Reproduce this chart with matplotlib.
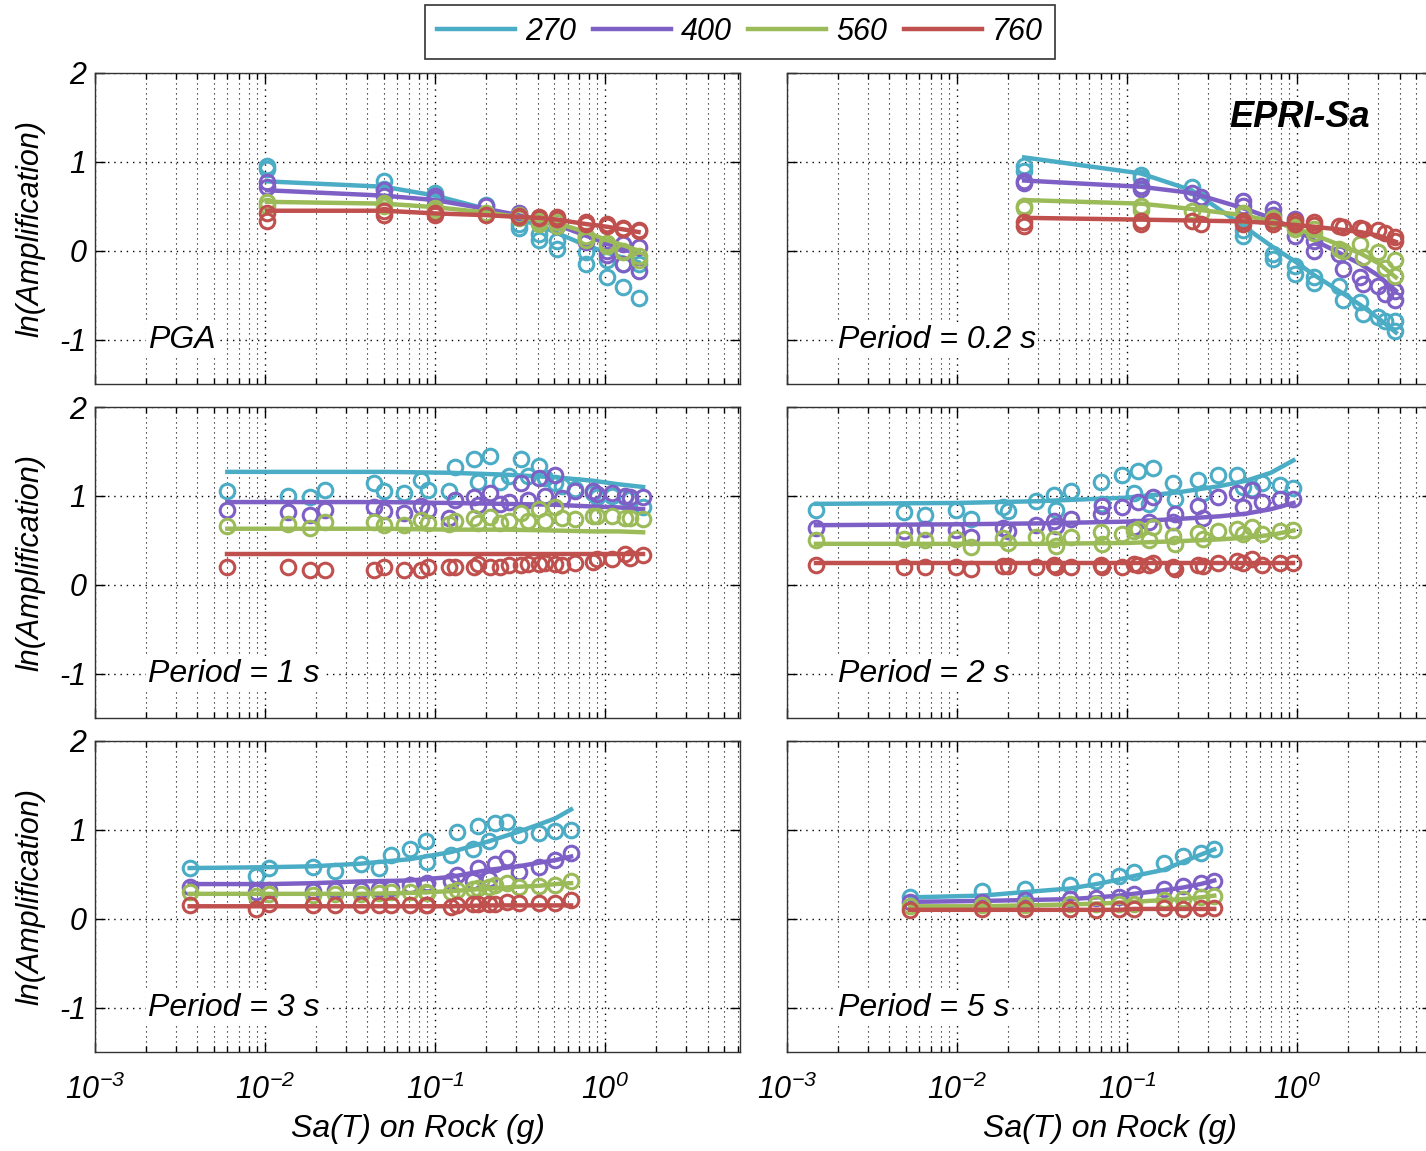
import numpy as np
import matplotlib
matplotlib.use("Agg")
import matplotlib.pyplot as plt
from matplotlib.ticker import LogLocator, LogFormatterMathtext, FixedLocator, NullFormatter
from matplotlib.lines import Line2D

plt.rcParams['font.family'] = ['Liberation Sans', 'DejaVu Sans']
plt.rcParams['font.style'] = 'italic'
plt.rcParams['mathtext.fontset'] = 'custom'
plt.rcParams['mathtext.rm'] = 'Liberation Sans:italic'
plt.rcParams['mathtext.it'] = 'Liberation Sans:italic'
plt.rcParams['mathtext.sf'] = 'Liberation Sans:italic'
plt.rcParams['axes.unicode_minus'] = False

# ---------------- data ----------------
series_labels = ['270', '400', '560', '760']
series_colors = ['#4BACC6', '#7E5FC6', '#9BBB59', '#C0504D']
panel_titles = ['PGA', 'Period = 0.2 s', 'Period = 1 s', 'Period = 2 s', 'Period = 3 s', 'Period = 5 s']
y_ticks = [-1, 0, 1, 2]

# PGA
pga_pts_x = [0.0103, 0.0103, 0.05, 0.05, 0.1, 0.1, 0.2, 0.31, 0.31, 0.41, 0.41, 0.52, 0.52,
             0.77, 0.77, 1.02, 1.02, 1.28, 1.28, 1.57, 1.57]
pga_pts_270 = [0.95, 0.92, 0.78, 0.70, 0.65, 0.62, 0.51, 0.30, 0.26, 0.19, 0.12, 0.11, 0.02,
               -0.02, -0.15, -0.11, -0.30, -0.15, -0.41, -0.15, -0.53]
pga_pts_400 = [0.77, 0.72, 0.68, 0.62, 0.62, 0.58, 0.50, 0.42, 0.40, 0.36, 0.33, 0.32, 0.28,
               0.15, 0.10, 0.00, -0.05, 0.07, -0.15, 0.04, -0.23]
pga_pts_560 = [0.55, 0.50, 0.54, 0.50, 0.48, 0.45, 0.42, 0.40, 0.37, 0.33, 0.30, 0.32, 0.28,
               0.17, 0.12, 0.09, 0.05, 0.00, -0.02, -0.06, -0.10]
pga_pts_760 = [0.43, 0.34, 0.45, 0.40, 0.43, 0.40, 0.40, 0.39, 0.38, 0.38, 0.37, 0.38, 0.36,
               0.32, 0.30, 0.30, 0.28, 0.26, 0.25, 0.23, 0.22]
pga_fit_x = [0.0103, 0.05, 0.1, 0.2, 0.31, 0.41, 0.52, 0.77, 1.02, 1.28, 1.57]
pga_fit_270 = [0.78, 0.72, 0.62, 0.47, 0.36, 0.28, 0.20, 0.06, -0.02, -0.08, -0.13]
pga_fit_400 = [0.68, 0.62, 0.57, 0.47, 0.40, 0.34, 0.29, 0.17, 0.08, 0.02, -0.04]
pga_fit_560 = [0.55, 0.53, 0.49, 0.43, 0.38, 0.34, 0.31, 0.21, 0.12, 0.06, 0.00]
pga_fit_760 = [0.45, 0.45, 0.42, 0.40, 0.38, 0.37, 0.35, 0.30, 0.27, 0.24, 0.21]

# T = 0.2 s
t02_pts_x = [0.0248, 0.0248, 0.12, 0.12, 0.24, 0.27, 0.48, 0.48, 0.72, 0.72, 0.97, 0.97,
             1.25, 1.25, 1.75, 1.85, 2.35, 2.45, 3.0, 3.3, 3.75, 3.75]
t02_pts_270 = [0.95, 0.90, 0.85, 0.82, 0.72, 0.57, 0.23, 0.16, -0.04, -0.09, -0.17, -0.26,
               -0.36, -0.30, -0.40, -0.56, -0.58, -0.71, -0.75, -0.79, -0.79, -0.90]
t02_pts_400 = [0.78, 0.76, 0.73, 0.70, 0.65, 0.60, 0.56, 0.50, 0.47, 0.40, 0.36, 0.17,
               0.11, 0.00, -0.04, -0.21, -0.30, -0.38, -0.40, -0.49, -0.45, -0.56]
t02_pts_560 = [0.50, 0.48, 0.50, 0.46, 0.45, 0.42, 0.43, 0.40, 0.37, 0.33, 0.28, 0.25,
               0.25, 0.20, 0.02, 0.00, 0.08, -0.07, -0.02, -0.19, -0.11, -0.28]
t02_pts_760 = [0.32, 0.28, 0.34, 0.30, 0.34, 0.30, 0.34, 0.30, 0.34, 0.30, 0.34, 0.30,
               0.32, 0.29, 0.28, 0.27, 0.26, 0.25, 0.23, 0.20, 0.15, 0.11]
t02_fit_x = [0.0248, 0.12, 0.24, 0.48, 0.72, 0.97, 1.25, 1.75, 2.35, 3.0, 3.8]
t02_fit_270 = [1.05, 0.87, 0.68, 0.28, 0.04, -0.12, -0.27, -0.45, -0.61, -0.76, -0.92]
t02_fit_400 = [0.79, 0.72, 0.65, 0.48, 0.36, 0.24, 0.12, -0.02, -0.15, -0.28, -0.45]
t02_fit_560 = [0.57, 0.53, 0.47, 0.40, 0.33, 0.25, 0.18, 0.07, -0.03, -0.14, -0.30]
t02_fit_760 = [0.37, 0.35, 0.34, 0.33, 0.31, 0.29, 0.27, 0.24, 0.21, 0.17, 0.10]

# T = 1 s
t1_pts_x = [0.006, 0.0137, 0.0183, 0.0225, 0.0436, 0.050, 0.066, 0.083, 0.091, 0.12, 0.13,
            0.17, 0.178, 0.21, 0.24, 0.27, 0.32, 0.35, 0.41, 0.44, 0.51, 0.56, 0.66, 0.85,
            0.9, 1.1, 1.3, 1.4, 1.67]
t1_pts_270 = [1.05, 1.00, 0.99, 1.07, 1.14, 1.05, 1.03, 1.18, 1.07, 1.06, 1.33, 1.42, 1.16,
              1.45, 1.16, 1.22, 1.41, 1.22, 1.34, 1.20, 1.14, 1.11, 1.08, 1.03, 0.99, 1.00,
              0.99, 0.97, 0.88]
t1_pts_400 = [0.84, 0.82, 0.78, 0.84, 0.87, 0.83, 0.81, 0.89, 0.84, 0.75, 0.95, 0.99, 0.90,
              1.03, 0.91, 0.93, 1.14, 0.95, 1.20, 1.00, 1.23, 0.98, 1.05, 1.05, 1.02, 1.03,
              1.00, 0.99, 0.99]
t1_pts_560 = [0.66, 0.68, 0.64, 0.71, 0.71, 0.67, 0.67, 0.73, 0.69, 0.68, 0.72, 0.75, 0.70,
              0.76, 0.70, 0.72, 0.81, 0.72, 0.85, 0.72, 0.87, 0.75, 0.74, 0.77, 0.77, 0.77,
              0.75, 0.75, 0.74]
t1_pts_760 = [0.20, 0.20, 0.17, 0.17, 0.17, 0.20, 0.17, 0.17, 0.20, 0.20, 0.20, 0.20, 0.23,
              0.20, 0.20, 0.22, 0.22, 0.23, 0.23, 0.25, 0.23, 0.22, 0.25, 0.26, 0.29, 0.29,
              0.35, 0.30, 0.33]
t1_fit_x = [0.006, 0.05, 0.12, 0.25, 0.5, 0.85, 1.2, 1.67]
t1_fit_270 = [1.27, 1.27, 1.26, 1.24, 1.21, 1.17, 1.13, 1.10]
t1_fit_400 = [0.93, 0.93, 0.92, 0.91, 0.90, 0.88, 0.87, 0.85]
t1_fit_560 = [0.63, 0.63, 0.62, 0.62, 0.61, 0.60, 0.60, 0.59]
t1_fit_760 = [0.35, 0.35, 0.35, 0.35, 0.35, 0.35, 0.35, 0.35]

# T = 2 s
t2_pts_x = [0.00148, 0.0049, 0.0065, 0.0098, 0.012, 0.0186, 0.020, 0.029, 0.037, 0.038,
            0.047, 0.07, 0.071, 0.093, 0.109, 0.116, 0.135, 0.141, 0.187, 0.19, 0.26, 0.28,
            0.34, 0.44, 0.48, 0.54, 0.62, 0.79, 0.94]
t2_pts_270 = [0.84, 0.82, 0.78, 0.84, 0.74, 0.88, 0.83, 0.94, 1.01, 0.84, 1.06, 1.16, 0.91,
              1.23, 1.03, 1.28, 0.91, 1.31, 1.14, 0.97, 1.18, 1.03, 1.23, 1.23, 1.10, 1.08,
              1.14, 1.12, 1.09]
t2_pts_400 = [0.64, 0.61, 0.63, 0.62, 0.54, 0.64, 0.61, 0.67, 0.72, 0.66, 0.74, 0.80, 0.89,
              0.87, 0.65, 0.93, 0.71, 0.99, 0.71, 0.80, 0.89, 0.75, 0.99, 1.03, 0.88, 1.07,
              0.93, 0.96, 0.97]
t2_pts_560 = [0.50, 0.52, 0.50, 0.52, 0.43, 0.53, 0.47, 0.54, 0.52, 0.44, 0.54, 0.59, 0.46,
              0.57, 0.60, 0.63, 0.50, 0.65, 0.55, 0.46, 0.58, 0.52, 0.61, 0.63, 0.57, 0.65,
              0.57, 0.61, 0.62]
t2_pts_760 = [0.22, 0.20, 0.20, 0.20, 0.18, 0.21, 0.21, 0.20, 0.22, 0.20, 0.20, 0.22, 0.20,
              0.20, 0.23, 0.22, 0.22, 0.24, 0.20, 0.18, 0.22, 0.21, 0.25, 0.27, 0.24, 0.29,
              0.22, 0.24, 0.24]
t2_fit_x = [0.00148, 0.01, 0.03, 0.1, 0.2, 0.35, 0.5, 0.7, 0.95]
t2_fit_270 = [0.91, 0.92, 0.94, 0.98, 1.04, 1.11, 1.17, 1.26, 1.40]
t2_fit_400 = [0.67, 0.68, 0.69, 0.71, 0.74, 0.77, 0.80, 0.85, 0.92]
t2_fit_560 = [0.46, 0.46, 0.46, 0.47, 0.49, 0.51, 0.53, 0.56, 0.61]
t2_fit_760 = [0.24, 0.24, 0.24, 0.24, 0.24, 0.24, 0.24, 0.24, 0.24]

# T = 3 s
t3_pts_x = [0.0036, 0.0089, 0.0106, 0.0192, 0.0257, 0.0367, 0.047, 0.055, 0.071, 0.088,
            0.09, 0.124, 0.134, 0.166, 0.179, 0.206, 0.224, 0.266, 0.31, 0.407, 0.51, 0.63]
t3_pts_270 = [0.57, 0.48, 0.57, 0.58, 0.54, 0.62, 0.57, 0.72, 0.79, 0.87, 0.64, 0.72, 0.98,
              0.79, 1.04, 0.88, 1.08, 1.09, 0.94, 0.97, 0.99, 1.00]
t3_pts_400 = [0.36, 0.30, 0.32, 0.31, 0.32, 0.32, 0.34, 0.35, 0.38, 0.38, 0.40, 0.42, 0.49,
              0.43, 0.57, 0.45, 0.62, 0.68, 0.53, 0.58, 0.66, 0.74]
t3_pts_560 = [0.30, 0.26, 0.28, 0.27, 0.28, 0.28, 0.29, 0.30, 0.30, 0.30, 0.29, 0.30, 0.32,
              0.34, 0.35, 0.36, 0.38, 0.40, 0.36, 0.37, 0.38, 0.42]
t3_pts_760 = [0.15, 0.11, 0.17, 0.15, 0.15, 0.15, 0.15, 0.15, 0.15, 0.15, 0.15, 0.13, 0.15,
              0.17, 0.16, 0.17, 0.16, 0.19, 0.18, 0.18, 0.18, 0.21]
t3_fit_x = [0.0036, 0.0106, 0.0192, 0.0367, 0.071, 0.124, 0.206, 0.31, 0.407, 0.51, 0.63]
t3_fit_270 = [0.57, 0.58, 0.59, 0.62, 0.67, 0.75, 0.87, 0.98, 1.06, 1.13, 1.23]
t3_fit_400 = [0.39, 0.39, 0.40, 0.42, 0.43, 0.47, 0.55, 0.59, 0.63, 0.66, 0.70]
t3_fit_560 = [0.28, 0.28, 0.28, 0.28, 0.29, 0.31, 0.34, 0.36, 0.37, 0.39, 0.40]
t3_fit_760 = [0.14, 0.14, 0.14, 0.14, 0.14, 0.14, 0.15, 0.15, 0.15, 0.15, 0.15]

# T = 5 s
t5_pts_x = [0.0053, 0.014, 0.025, 0.046, 0.066, 0.089, 0.109, 0.164, 0.212, 0.27, 0.325]
t5_pts_270 = [0.25, 0.31, 0.33, 0.38, 0.43, 0.48, 0.53, 0.63, 0.71, 0.74, 0.79]
t5_pts_400 = [0.19, 0.19, 0.21, 0.22, 0.23, 0.25, 0.28, 0.34, 0.37, 0.40, 0.43]
t5_pts_560 = [0.14, 0.15, 0.15, 0.16, 0.16, 0.17, 0.17, 0.21, 0.22, 0.24, 0.26]
t5_pts_760 = [0.10, 0.11, 0.11, 0.11, 0.10, 0.11, 0.11, 0.12, 0.11, 0.12, 0.12]
t5_fit_x = t5_pts_x
t5_fit_270 = [0.24, 0.26, 0.30, 0.34, 0.39, 0.44, 0.48, 0.55, 0.64, 0.72, 0.78]
t5_fit_400 = [0.19, 0.20, 0.21, 0.22, 0.24, 0.26, 0.28, 0.32, 0.35, 0.39, 0.43]
t5_fit_560 = [0.14, 0.14, 0.15, 0.16, 0.17, 0.18, 0.19, 0.21, 0.22, 0.24, 0.26]
t5_fit_760 = [0.10, 0.10, 0.10, 0.10, 0.10, 0.10, 0.11, 0.11, 0.11, 0.11, 0.11]

panels = [
    (pga_pts_x, [pga_pts_270, pga_pts_400, pga_pts_560, pga_pts_760],
     pga_fit_x, [pga_fit_270, pga_fit_400, pga_fit_560, pga_fit_760]),
    (t02_pts_x, [t02_pts_270, t02_pts_400, t02_pts_560, t02_pts_760],
     t02_fit_x, [t02_fit_270, t02_fit_400, t02_fit_560, t02_fit_760]),
    (t1_pts_x, [t1_pts_270, t1_pts_400, t1_pts_560, t1_pts_760],
     t1_fit_x, [t1_fit_270, t1_fit_400, t1_fit_560, t1_fit_760]),
    (t2_pts_x, [t2_pts_270, t2_pts_400, t2_pts_560, t2_pts_760],
     t2_fit_x, [t2_fit_270, t2_fit_400, t2_fit_560, t2_fit_760]),
    (t3_pts_x, [t3_pts_270, t3_pts_400, t3_pts_560, t3_pts_760],
     t3_fit_x, [t3_fit_270, t3_fit_400, t3_fit_560, t3_fit_760]),
    (t5_pts_x, [t5_pts_270, t5_pts_400, t5_pts_560, t5_pts_760],
     t5_fit_x, [t5_fit_270, t5_fit_400, t5_fit_560, t5_fit_760]),
]

# ---------------- figure ----------------
W, H = 1426, 1151
fig = plt.figure(figsize=(W / 100, H / 100), dpi=100)
FS = 22

col_left = [95, 787]
row_top = [73, 407, 741]
ax_w, ax_h = 645, 311

dot = (0, (1, 3.5))
for i, (px, pys, fx, fys) in enumerate(panels):
    r, c = divmod(i, 2)
    left = col_left[c] / W
    bottom = 1 - (row_top[r] + ax_h) / H
    ax = fig.add_axes([left, bottom, ax_w / W, ax_h / H])
    ax.set_xscale('log')
    ax.set_xlim(1e-3, 6.2)
    ax.set_ylim(-1.5, 2)
    ax.yaxis.set_major_locator(FixedLocator(y_ticks))
    ax.xaxis.set_major_locator(LogLocator(base=10, numticks=10))
    ax.xaxis.set_minor_locator(LogLocator(base=10, subs=np.arange(2, 10), numticks=20))
    ax.xaxis.set_minor_formatter(NullFormatter())
    ax.grid(True, which='major', axis='both', linestyle=dot, color='black', linewidth=1.0)
    ax.grid(True, which='minor', axis='x', linestyle=dot, color='black', linewidth=0.8)
    ax.tick_params(which='both', direction='in', top=True, right=True, labelsize=FS,
                   width=1.0, colors='black')
    ax.tick_params(which='major', length=7)
    ax.tick_params(which='minor', length=4)
    ax.tick_params(axis='x', pad=16)
    ax.tick_params(axis='y', pad=6)
    for s in ax.spines.values():
        s.set_linewidth(1.0)
        s.set_color('#333333')

    for k in range(4):
        ax.plot(fx, fys[k], '-', color=series_colors[k], linewidth=3.2, zorder=3 + k)
        ax.plot(px, pys[k], 'o', color=series_colors[k], markerfacecolor='none',
                markersize=10.5, markeredgewidth=2.2, linestyle='none', zorder=3 + k)

    ax.text(0.082 if c == 0 else 0.079, 0.143, panel_titles[i], transform=ax.transAxes,
            fontsize=23, ha='left', va='center', color='black', zorder=10,
            bbox=dict(facecolor='white', edgecolor='none', pad=1.5))

    if c == 0:
        ax.set_ylabel('ln(Amplification)', fontsize=FS, labelpad=10)
    else:
        ax.set_yticklabels([])
    if r == 2:
        ax.xaxis.set_major_formatter(LogFormatterMathtext())
        ax.set_xlabel('Sa(T) on Rock (g)', fontsize=23, labelpad=6)
    else:
        ax.set_xticklabels([])

    if i == 1:
        ax.text(0.686, 0.857, 'EPRI-Sa', transform=ax.transAxes, fontsize=26,
                fontweight='bold', ha='left', va='center', color='black', zorder=10)

handles = [Line2D([0], [0], color=col, linewidth=3.2) for col in series_colors]
leg = fig.legend(handles, series_labels, loc='center', bbox_to_anchor=(740 / W, 1 - 32 / H),
                 ncol=4, fontsize=FS, frameon=True, fancybox=False, edgecolor='black',
                 handlelength=2.55, handletextpad=0.33, columnspacing=0.55,
                 borderpad=0.4, borderaxespad=0)
leg.get_frame().set_linewidth(1.2)

fig.savefig('out.png', dpi=100)
